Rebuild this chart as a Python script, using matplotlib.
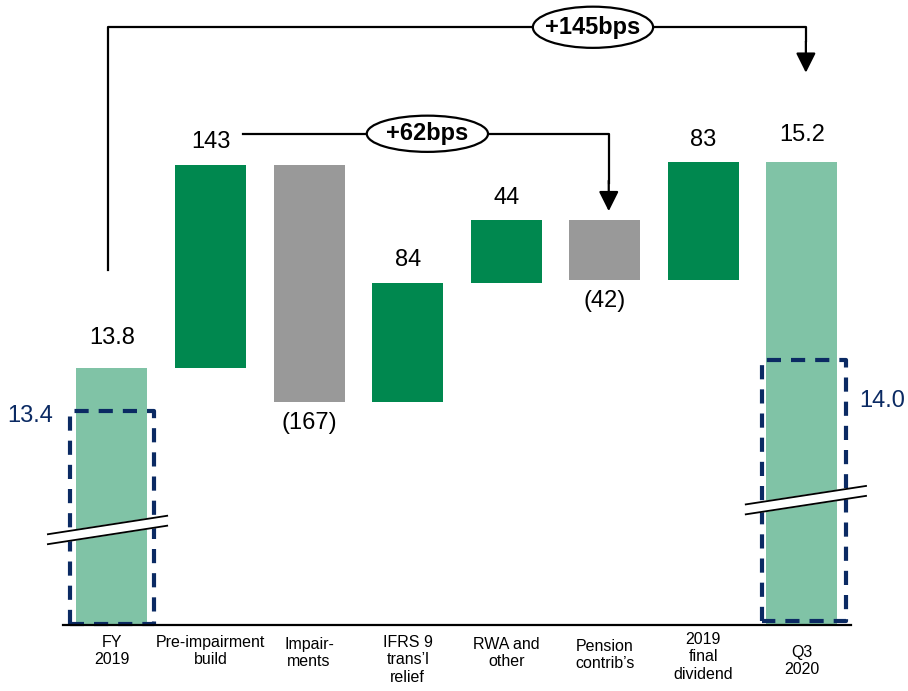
import numpy as np
import matplotlib.pyplot as plt
from matplotlib.patches import Ellipse

plt.rcParams['font.family'] = ['Liberation Sans', 'DejaVu Sans']

# CET1 ratio walk, bps
categories = ['FY\n2019', 'Pre-impairment\nbuild', 'Impair-\nments', 'IFRS 9\ntrans\u2019l\nrelief',
              'RWA and\nother', 'Pension\ncontrib\u2019s', '2019\nfinal\ndividend', 'Q3\n2020']
start_ratio = 13.8
end_ratio = 15.2
steps = [143, -167, 84, 44, -42, 83]
step_labels = ['143', '(167)', '84', '44', '(42)', '83']
req_start = 13.4
req_end = 14.0
total_bps = 145
sub_bps = 62

LIGHT = '#80c3a6'
DARK = '#00884f'
GREY = '#999999'
NAVY = '#0b2a63'

fig = plt.figure(figsize=(9.08, 6.91), dpi=100)
ax = fig.add_axes([0, 0, 1, 1])
ax.set_xlim(-1.136, 8.076)
ax.set_ylim(1152.6, 1639.2)
ax.axis('off')

base = 1199
w = 0.72
x = np.arange(len(categories))

# totals
start_bps = start_ratio * 100
ax.bar(x[0], start_bps - base, bottom=base, width=w, color=LIGHT, zorder=1)
ax.bar(x[-1], start_bps + sum(steps) - base, bottom=base, width=w, color=LIGHT, zorder=1)
ax.annotate(f'{start_ratio:.1f}', (x[0], start_bps), xytext=(0, 17), textcoords='offset points',
            ha='center', va='baseline', fontsize=17)
ax.annotate(f'{end_ratio:.1f}', (x[-1], start_bps + sum(steps)), xytext=(0, 15), textcoords='offset points',
            ha='center', va='baseline', fontsize=17)

# floating steps
level = start_bps
for i, (s, lab) in enumerate(zip(steps, step_labels), start=1):
    col = DARK if s > 0 else GREY
    ax.bar(x[i], s, bottom=level, width=w, color=col, zorder=1)
    if s > 0:
        ax.annotate(lab, (x[i], level + s), xytext=(0, 12), textcoords='offset points',
                    ha='center', va='baseline', fontsize=17)
    else:
        ax.annotate(lab, (x[i], level + s), xytext=(0, -7), textcoords='offset points',
                    ha='center', va='top', fontsize=17)
    level += s

# baseline
ax.plot([-0.5, 7.5], [base, base], color='black', lw=1.6, zorder=3)

# category labels
drops = [0, 0, 2, 0, 2, 4, -3, 10]
for i, c in enumerate(categories):
    ax.annotate(c, (x[i], base), xytext=(0, -7 - drops[i] * 0.72), textcoords='offset points',
                ha='center', va='top', fontsize=11.5, linespacing=1.22)

# requirement boxes (dashed)
dash = (0, (3.4, 2.4))
ax.plot([-0.43, -0.43, 0.43, 0.43, -0.43], [base + 1, 1350, 1350, base + 1, base + 1],
        color=NAVY, lw=3, linestyle=dash, zorder=2)
ax.text(-0.83, 1346, f'{req_start:.1f}', color=NAVY, fontsize=17, ha='center', va='center')
ax.plot([6.59, 6.59, 7.45, 7.45, 6.59], [1202, 1386, 1386, 1202, 1202],
        color=NAVY, lw=3, linestyle=dash, zorder=2)
ax.text(7.81, 1357, f'{req_end:.1f}', color=NAVY, fontsize=17, ha='center', va='center')

# axis break marks
for (x0, x1), (y0, y1), gap in [((-0.65, 0.56), (1263, 1276), 7), ((6.43, 7.65), (1284, 1297), 7)]:
    ax.fill([x0, x1, x1, x0], [y0, y1, y1 - gap, y0 - gap], color='white', zorder=4)
    ax.plot([x0, x1], [y0, y1], color='black', lw=1.3, zorder=5)
    ax.plot([x0, x1], [y0 - gap, y1 - gap], color='black', lw=1.3, zorder=5)

# bracket arrows
head = dict(arrowstyle='-|>,head_length=0.6,head_width=0.3', color='black', lw=1.6,
            shrinkA=0, shrinkB=0, mutation_scale=20)

top_y = 1620
ax.plot([-0.04, -0.04, 7.04, 7.04], [1449, top_y, top_y, 1610], color='black', lw=1.6, zorder=2)
ax.annotate('', xy=(7.04, 1588), xytext=(7.04, 1610), arrowprops=head)
ax.add_patch(Ellipse((4.88, top_y), 1.22, 29, facecolor='white', edgecolor='black', lw=1.6, zorder=3))
ax.text(4.88, top_y, f'+{total_bps}bps', fontsize=17, fontweight='bold', ha='center', va='center', zorder=4)

mid_y = 1545
ax.plot([1.33, 5.04, 5.04], [mid_y, mid_y, 1510], color='black', lw=1.6, zorder=2)
ax.annotate('', xy=(5.04, 1490.5), xytext=(5.04, 1512), arrowprops=head)
ax.add_patch(Ellipse((3.2, mid_y), 1.23, 25.5, facecolor='white', edgecolor='black', lw=1.6, zorder=3))
ax.text(3.2, mid_y, f'+{sub_bps}bps', fontsize=17, fontweight='bold', ha='center', va='center', zorder=4)

plt.savefig('out.png', dpi=100)
plt.close()
